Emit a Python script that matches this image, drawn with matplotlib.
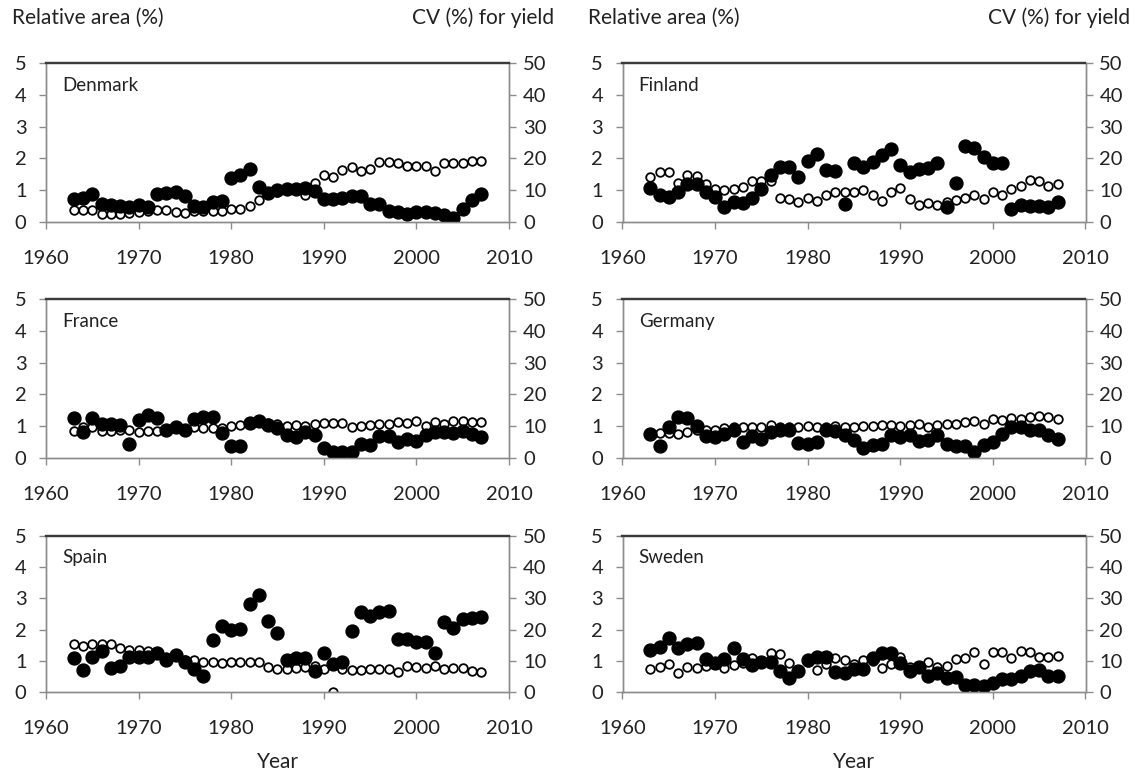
import numpy as np
import matplotlib
matplotlib.use("Agg")
import matplotlib.pyplot as plt

plt.rcParams['font.family'] = ['Lato', 'DejaVu Sans']

years = np.arange(1963, 2008)

countries = ["Denmark", "Finland", "France", "Germany", "Spain", "Sweden"]

# relative area (%), left axis, filled circles
denmark_area = [0.72, 0.74, 0.89, 0.58, 0.53, 0.50, 0.47, 0.55, 0.47, 0.89,
                0.92, 0.95, 0.82, 0.50, 0.47, 0.63, 0.65, 1.37, 1.49, 1.68,
                1.10, 0.92, 1.02, 1.05, 1.05, 1.07, 0.97, 0.72, 0.72, 0.76,
                0.82, 0.82, 0.56, 0.58, 0.35, 0.32, 0.26, 0.32, 0.32, 0.29,
                0.21, 0.14, 0.40, 0.68, 0.89]
finland_area = [1.07, 0.86, 0.79, 0.95, 1.21, 1.21, 0.95, 0.79, 0.47, 0.63,
                0.60, 0.76, 1.05, 1.49, 1.72, 1.74, 1.42, 1.92, 2.14, 1.63,
                1.60, 0.56, 1.87, 1.74, 1.89, 2.10, 2.28, 1.79, 1.56, 1.66,
                1.71, 1.86, 0.47, 1.24, 2.40, 2.34, 2.03, 1.87, 1.87, 0.40,
                0.53, 0.50, 0.50, 0.47, 0.63]
france_area = [1.27, 0.82, 1.26, 1.08, 1.06, 1.03, 0.45, 1.19, 1.35, 1.27,
               0.89, 0.98, 0.87, 1.24, 1.29, 1.29, 0.79, 0.37, 0.37, 1.10,
               1.17, 1.03, 0.93, 0.72, 0.66, 0.82, 0.72, 0.33, 0.19, 0.19,
               0.19, 0.45, 0.40, 0.69, 0.69, 0.51, 0.61, 0.54, 0.72, 0.82,
               0.82, 0.79, 0.84, 0.74, 0.66]
germany_area = [0.77, 0.37, 0.98, 1.29, 1.26, 1.00, 0.68, 0.66, 0.75, 0.87,
                0.51, 0.69, 0.59, 0.82, 0.87, 0.89, 0.47, 0.43, 0.51, 0.89,
                0.85, 0.72, 0.58, 0.33, 0.40, 0.45, 0.72, 0.66, 0.72, 0.54,
                0.56, 0.72, 0.45, 0.37, 0.37, 0.19, 0.40, 0.51, 0.75, 0.96,
                0.96, 0.87, 0.87, 0.72, 0.61]
spain_area = [1.08, 0.71, 1.11, 1.32, 0.78, 0.84, 1.13, 1.13, 1.13, 1.26,
              1.03, 1.19, 0.95, 0.74, 0.51, 1.67, 2.12, 1.99, 2.01, 2.81,
              3.11, 2.28, 1.90, 1.03, 1.08, 1.08, 0.67, 1.24, 0.89, 0.95,
              1.94, 2.58, 2.42, 2.58, 2.60, 1.69, 1.69, 1.59, 1.61, 1.24,
              2.24, 2.04, 2.34, 2.36, 2.39]
sweden_area = [1.35, 1.45, 1.72, 1.42, 1.54, 1.56, 1.05, 0.94, 1.06, 1.42,
               1.06, 0.87, 0.95, 0.97, 0.68, 0.44, 0.68, 1.03, 1.13, 1.13,
               0.65, 0.60, 0.73, 0.73, 1.08, 1.24, 1.24, 0.94, 0.68, 0.81,
               0.52, 0.60, 0.44, 0.47, 0.22, 0.22, 0.20, 0.28, 0.42, 0.42,
               0.52, 0.68, 0.71, 0.52, 0.52]

# CV (%) for yield, right axis, open circles
denmark_cv = [3.9, 3.7, 3.7, 2.6, 2.6, 2.6, 2.8, 3.2, 3.4, 3.9,
              3.7, 3.2, 2.9, 3.5, 3.6, 3.5, 3.4, 4.0, 4.2, 5.0,
              6.8, 9.0, 9.5, 10.0, 10.0, 8.6, 12.4, 14.9, 14.2, 16.3,
              17.4, 16.0, 16.8, 18.9, 18.9, 18.7, 17.7, 17.5, 17.6, 16.1,
              18.4, 18.4, 18.7, 19.2, 19.2]
finland_cv = [14.2, 15.8, 15.8, 12.3, 14.9, 14.5, 12.1, 10.3, 10.2, 10.5,
              11.0, 12.8, 12.8, 12.8, 7.6, 7.2, 6.3, 7.4, 6.5, 8.6,
              9.5, 9.3, 9.5, 10.0, 8.4, 6.6, 9.3, 10.7, 7.2, 5.5,
              6.1, 5.5, 6.3, 6.8, 7.6, 8.4, 7.2, 9.3, 8.6, 10.3,
              11.4, 13.2, 12.8, 11.4, 12.1]
france_cv = [8.4, 9.6, 9.8, 8.5, 8.5, 8.7, 8.7, 8.2, 8.5, 8.5,
             8.9, 9.6, 8.9, 9.6, 9.3, 9.3, 9.3, 10.0, 10.5, 11.4,
             11.7, 11.0, 10.8, 10.2, 10.5, 10.2, 10.8, 11.0, 11.0, 11.0,
             9.8, 10.0, 10.5, 10.8, 10.8, 11.4, 11.0, 11.5, 10.2, 11.4,
             10.6, 11.5, 11.5, 11.4, 11.4]
germany_cv = [7.5, 7.9, 7.9, 7.7, 8.2, 8.7, 8.7, 8.9, 9.3, 9.8,
              9.6, 9.8, 9.6, 10.3, 9.8, 9.8, 9.8, 10.0, 9.8, 9.6,
              10.0, 9.8, 9.8, 10.0, 10.0, 10.3, 10.5, 10.0, 10.3, 10.8,
              9.8, 10.3, 10.6, 10.6, 11.4, 11.7, 10.6, 12.4, 11.9, 12.6,
              12.4, 12.9, 13.1, 12.9, 12.4]
spain_cv = [15.3, 14.8, 15.4, 15.4, 15.4, 14.2, 13.5, 13.5, 13.2, 12.6,
            11.3, 11.9, 10.3, 10.3, 9.5, 9.7, 9.2, 9.5, 9.5, 9.5,
            9.5, 8.0, 7.3, 7.4, 7.8, 8.1, 8.4, 7.4, 0.0, 7.4,
            7.1, 7.1, 7.4, 7.3, 7.4, 6.5, 8.4, 8.1, 7.6, 8.4,
            7.4, 7.6, 7.8, 6.7, 6.3]
sweden_cv = [7.3, 8.1, 8.9, 6.2, 7.9, 7.8, 8.4, 8.9, 7.6, 8.7,
             9.2, 10.8, 9.7, 12.6, 12.1, 9.2, 7.0, 9.5, 7.1, 8.9,
             10.8, 10.3, 8.9, 10.1, 10.0, 7.8, 9.0, 11.1, 8.1, 8.0,
             9.5, 8.1, 8.3, 10.6, 11.0, 12.7, 8.9, 12.9, 12.9, 10.8,
             13.3, 12.9, 11.3, 11.3, 11.6]

areas = [denmark_area, finland_area, france_area, germany_area, spain_area, sweden_area]
cvs = [denmark_cv, finland_cv, france_cv, germany_cv, spain_cv, sweden_cv]

W, H = 1140, 775
fig = plt.figure(figsize=(W / 100, H / 100), dpi=100)

col_left = [46, 622.5]
ax_w = 463
row_top = [63, 299, 536]
row_bot = [222, 458, 692]

for k, name in enumerate(countries):
    r, c = divmod(k, 2)
    x0 = col_left[c]
    rect = [x0 / W, 1 - row_bot[r] / H, ax_w / W, (row_bot[r] - row_top[r]) / H]
    ax = fig.add_axes(rect)
    ax2 = ax.twinx()
    ax.set_zorder(ax2.get_zorder() + 1)
    ax.patch.set_visible(False)

    ax2.plot(years, cvs[k], 'o', ms=6.2, mfc='white', mec='black', mew=1.3)
    ax.plot(years, areas[k], 'o', ms=9.3, mfc='black', mec='black')

    ax.set_xlim(1960, 2010)
    ax.set_ylim(0, 5)
    ax2.set_ylim(0, 50)
    ax.set_xticks(np.arange(1960, 2011, 10))
    ax.set_yticks(np.arange(0, 6, 1))
    ax2.set_yticks(np.arange(0, 51, 10))

    for a in (ax, ax2):
        for s in a.spines.values():
            s.set_color('#8c8c8c')
            s.set_linewidth(1.0)
        a.spines['top'].set_color('#3a3a3a')
        a.spines['top'].set_linewidth(1.6)
        a.tick_params(direction='out', length=5, width=1, color='#8c8c8c',
                      labelsize=14.5, labelcolor='#222222', pad=5)
    ax.tick_params(axis='x', pad=15)
    ax.tick_params(axis='y', pad=9)

    ax.text(0.035, 0.86, name, transform=ax.transAxes, fontsize=13.5,
            ha='left', va='center', color='#222222')

    if r == 0:
        fig.text((x0 - 34) / W, 1 - 18 / H, "Relative area (%)", fontsize=15,
                 ha='left', va='center', color='#222222')
        fig.text((x0 + ax_w + 45) / W, 1 - 18 / H, "CV (%) for yield", fontsize=15,
                 ha='right', va='center', color='#222222')
    if r == 2:
        fig.text((x0 + ax_w / 2) / W, 1 - 762 / H, "Year", fontsize=15,
                 ha='center', va='center', color='#222222')

fig.savefig("out.png", dpi=100)
